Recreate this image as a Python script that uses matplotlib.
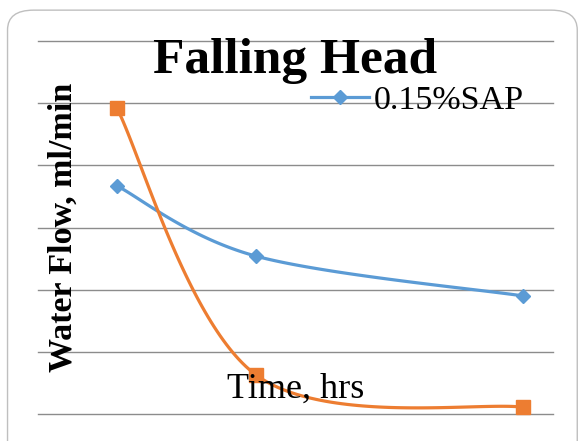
import numpy as np
import matplotlib
matplotlib.use("Agg")
import matplotlib.pyplot as plt
from matplotlib.patches import FancyBboxPatch
from matplotlib.lines import Line2D

# Data
time_hrs = [1.0, 2.0, 3.92]
sap_015 = [3.67, 2.54, 1.90]      # blue, "0.15%SAP"
other_series = [4.92, 0.63, 0.11]  # orange (no legend entry visible)
series_label = "0.15%SAP"
title = "Falling Head"
xlabel = "Time, hrs"
ylabel = "Water Flow, ml/min"

serif = ["Liberation Serif", "DejaVu Serif"]


def smooth(xs, ys, n=60):
    """Excel-like smoothed line (Catmull-Rom Bezier) through the points."""
    P = np.column_stack([xs, ys]).astype(float)
    out = [P[0]]
    for i in range(len(P) - 1):
        p0 = P[i - 1] if i > 0 else P[i]
        p1, p2 = P[i], P[i + 1]
        p3 = P[i + 2] if i + 2 < len(P) else P[i + 1]
        c1 = p1 + (p2 - p0) / 6.0
        c2 = p2 - (p3 - p1) / 6.0
        t = np.linspace(0, 1, n)[1:, None]
        b = ((1 - t) ** 3) * p1 + 3 * ((1 - t) ** 2) * t * c1 + 3 * (1 - t) * t ** 2 * c2 + t ** 3 * p2
        out.extend(b)
    out = np.array(out)
    return out[:, 0], out[:, 1]


fig = plt.figure(figsize=(5.79, 4.41), dpi=100)
fig.patch.set_facecolor("white")

# rounded chart frame
frame = FancyBboxPatch((0.013, -0.05), 0.984, 1.027,
                       boxstyle="round,pad=0,rounding_size=0.045",
                       transform=fig.transFigure, facecolor="none",
                       edgecolor="#bfbfbf", linewidth=1.0, zorder=-1)
fig.patches.append(frame)

ax = fig.add_axes([0.0656, 0.0612, 0.8894, 0.8458])
ax.set_facecolor("none")
ax.set_xlim(0.432, 4.137)
ax.set_ylim(0, 6)
ax.set_yticks(np.arange(0, 7, 1))
ax.set_xticks([])
ax.tick_params(left=False, labelleft=False)
for s in ax.spines.values():
    s.set_visible(False)
ax.grid(axis="y", color="#8c8c8c", linewidth=1.0)
ax.set_axisbelow(True)
for gl in ax.get_ygridlines():
    gl.set_clip_on(False)

blue = "#5B9BD5"
orange = "#ED7D31"

sx, sy = smooth(time_hrs, sap_015)
ax.plot(sx, sy, color=blue, lw=2.3, solid_capstyle="round", zorder=3)
ax.plot(time_hrs, sap_015, ls="none", marker="D", ms=7, color=blue, zorder=4)

ox, oy = smooth(time_hrs, other_series)
ax.plot(ox, oy, color=orange, lw=2.3, solid_capstyle="round", zorder=3,
        clip_on=False)
ax.plot(time_hrs, other_series, ls="none", marker="s", ms=10, color=orange,
        zorder=4, clip_on=False)

fig.text(0.51, 0.862, title, ha="center", va="center", family=serif,
         fontweight="bold", fontsize=37)
fig.text(0.109, 0.485, ylabel, ha="center", va="center", rotation=90,
         family=serif, fontweight="bold", fontsize=24.5)
fig.text(0.51, 0.117, xlabel, ha="center", va="center", family=serif,
         fontsize=26)

handle = Line2D([], [], color=blue, lw=2.3, marker="D", ms=7)
leg = fig.legend([handle], [series_label], loc="center left",
                 bbox_to_anchor=(0.537, 0.771), frameon=False,
                 prop={"family": serif, "size": 24.5}, handlelength=1.7,
                 handletextpad=0.15, borderpad=0, borderaxespad=0)

fig.savefig("out.png", dpi=100)
